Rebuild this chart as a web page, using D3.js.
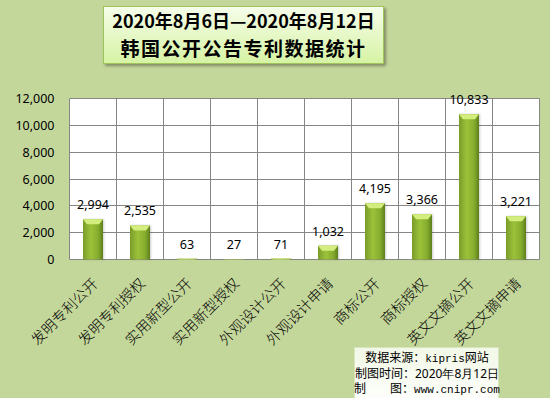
<!DOCTYPE html>
<html>
<head>
<meta charset="utf-8">
<script src="https://cdn.jsdelivr.net/npm/d3@7"></script>
<style>
  body { margin: 0; background: #c4d79b; }
  svg { display: block; }
</style>
</head>
<body>
<svg id="chart" width="550" height="398"></svg>
<script>
const categories = ['发明专利公开', '发明专利授权', '实用新型公开', '实用新型授权', '外观设计公开',
  '外观设计申请', '商标公开', '商标授权', '英文文摘公开', '英文文摘申请'];
const counts = [2994, 2535, 63, 27, 71, 1032, 4195, 3366, 10833, 3221];
const yTicks = [0, 2000, 4000, 6000, 8000, 10000, 12000];
const titleLines = ['2020年8月6日—2020年8月12日', '韩国公开公告专利数据统计'];
const sourceLines = [
  ['数据来源：', 'kipris', '网站'],
  ['制图时间：', '2020年8月12日', ''],
  ['制\u3000\u3000图：', 'www.cnipr.com', '']
];

const svg = d3.select('#chart');
const defs = svg.append('defs');

// bar body: darker at edges, lighter in the middle
let barGrad = defs.append('linearGradient').attr('id', 'barGrad')
  .attr('x1', 0).attr('x2', 1).attr('y1', 0).attr('y2', 0);
barGrad.append('stop').attr('offset', '0%').attr('stop-color', '#7a9c2a');
barGrad.append('stop').attr('offset', '40%').attr('stop-color', '#9cc23a');
barGrad.append('stop').attr('offset', '75%').attr('stop-color', '#86ad2e');
barGrad.append('stop').attr('offset', '100%').attr('stop-color', '#5f7f1e');

let titleGrad = defs.append('linearGradient').attr('id', 'titleGrad')
  .attr('x1', 0).attr('x2', 0).attr('y1', 0).attr('y2', 1);
titleGrad.append('stop').attr('offset', '0%').attr('stop-color', '#f6fdea');
titleGrad.append('stop').attr('offset', '100%').attr('stop-color', '#d6f3a4');

let srcGrad = defs.append('linearGradient').attr('id', 'srcGrad')
  .attr('x1', 0).attr('x2', 0).attr('y1', 0).attr('y2', 1);
srcGrad.append('stop').attr('offset', '0%').attr('stop-color', '#f2f8e6');
srcGrad.append('stop').attr('offset', '100%').attr('stop-color', '#ffffff');

let shadow = defs.append('filter').attr('id', 'shadow')
  .attr('x', '-10%').attr('y', '-10%').attr('width', '130%').attr('height', '140%');
shadow.append('feDropShadow').attr('dx', 2).attr('dy', 2).attr('stdDeviation', 1.5)
  .attr('flood-color', '#000').attr('flood-opacity', 0.35);

let barShadow = defs.append('filter').attr('id', 'barShadow')
  .attr('x', '-30%').attr('y', '-10%').attr('width', '160%').attr('height', '130%');
barShadow.append('feDropShadow').attr('dx', 1).attr('dy', 0).attr('stdDeviation', 1)
  .attr('flood-color', '#000').attr('flood-opacity', 0.2);

const pLeft = 69.5, pRight = 539.5, pTop = 98.5, pBottom = 259.5;

let x = d3.scaleBand().domain(categories).range([pLeft, pRight]).padding(0);
let y = d3.scaleLinear().domain([0, 12000]).range([pBottom, pTop]);

// plot area
svg.append('rect')
  .attr('x', pLeft).attr('y', pTop)
  .attr('width', pRight - pLeft).attr('height', pBottom - pTop)
  .attr('fill', '#fff');

// horizontal grid
svg.selectAll('.hgrid')
  .data(yTicks)
  .enter().append('line')
  .attr('class', 'hgrid')
  .attr('x1', pLeft).attr('x2', pRight)
  .attr('y1', d => Math.round(y(d) - 0.5) + 0.5)
  .attr('y2', d => Math.round(y(d) - 0.5) + 0.5)
  .attr('stroke', '#868686').attr('stroke-width', 1);

// vertical grid at band edges
svg.selectAll('.vgrid')
  .data(categories.concat(['end']))
  .enter().append('line')
  .attr('class', 'vgrid')
  .attr('x1', d => d === 'end' ? pRight : x(d))
  .attr('x2', d => d === 'end' ? pRight : x(d))
  .attr('y1', pTop).attr('y2', pBottom)
  .attr('stroke', '#868686').attr('stroke-width', 1);

// y axis labels
let yAxis = d3.axisLeft(y).tickValues(yTicks).tickSize(0).tickPadding(15)
  .tickFormat(d3.format(','));
let yg = svg.append('g').attr('transform', 'translate(' + pLeft + ',0)').call(yAxis);
yg.select('.domain').remove();
yg.selectAll('text')
  .attr('font-family', 'Noto Sans, sans-serif')
  .attr('font-size', 12.5)
  .attr('fill', '#000');

// bars
const bw = 20;
let bars = svg.selectAll('g.bar')
  .data(categories.map((c, i) => ({ cat: c, v: counts[i] })))
  .enter().append('g')
  .attr('class', 'bar');

bars.append('rect')
  .attr('x', d => x(d.cat) + x.bandwidth() / 2 - bw / 2)
  .attr('y', d => y(d.v))
  .attr('width', bw)
  .attr('height', d => pBottom - y(d.v))
  .attr('fill', 'url(#barGrad)')
  .attr('filter', 'url(#barShadow)');

// top bevel
bars.append('path')
  .attr('d', d => {
    let x0 = x(d.cat) + x.bandwidth() / 2 - bw / 2;
    let t = y(d.v);
    let h = Math.min(5, pBottom - t);
    let inset = Math.min(4, h * 0.8);
    return 'M' + x0 + ',' + t + 'L' + (x0 + bw) + ',' + t
      + 'L' + (x0 + bw - inset) + ',' + (t + h) + 'L' + (x0 + inset) + ',' + (t + h) + 'Z';
  })
  .attr('fill', '#d3ee7c');

bars.append('text')
  .attr('x', d => x(d.cat) + x.bandwidth() / 2)
  .attr('y', d => y(d.v) - 10)
  .attr('text-anchor', 'middle')
  .attr('font-family', 'Noto Sans, sans-serif')
  .attr('font-size', 12.5)
  .attr('fill', '#000')
  .text(d => d3.format(',')(d.v));

// category labels
svg.selectAll('.cat')
  .data(categories)
  .enter().append('text')
  .attr('class', 'cat')
  .attr('transform', d => 'translate(' + (x(d) + x.bandwidth() / 2 + 6) + ',' + (pBottom + 25) + ') rotate(-45)')
  .attr('text-anchor', 'end')
  .attr('font-family', 'Noto Sans CJK SC, sans-serif')
  .attr('font-weight', 300)
  .attr('font-size', 14.5)
  .attr('fill', '#000')
  .text(d => d);

// title box
svg.append('rect')
  .attr('x', 103.5).attr('y', 6.5).attr('width', 280).attr('height', 57)
  .attr('fill', 'url(#titleGrad)')
  .attr('stroke', '#9fc55a').attr('stroke-width', 1)
  .attr('filter', 'url(#shadow)');

svg.append('text')
  .attr('x', 243.5).attr('y', 28)
  .attr('text-anchor', 'middle')
  .attr('font-family', 'Noto Sans CJK SC, sans-serif')
  .attr('font-weight', 'bold')
  .attr('font-size', 18)
  .attr('fill', '#000')
  .text(titleLines[0]);

svg.append('text')
  .attr('x', 243.5).attr('y', 56)
  .attr('text-anchor', 'middle')
  .attr('font-family', 'Noto Sans CJK SC, sans-serif')
  .attr('font-weight', 'bold')
  .attr('font-size', 19)
  .attr('letter-spacing', 1.5)
  .attr('fill', '#000')
  .text(titleLines[1]);

// source box
svg.append('rect')
  .attr('x', 354.5).attr('y', 347.5).attr('width', 144).attr('height', 60)
  .attr('fill', 'url(#srcGrad)')
  .attr('stroke', '#d8e6bf').attr('stroke-width', 1);

let src = svg.selectAll('.src')
  .data(sourceLines)
  .enter().append('text')
  .attr('class', 'src')
  .attr('x', 427)
  .attr('y', (d, i) => 362 + i * 15.5)
  .attr('text-anchor', 'middle')
  .attr('font-family', 'Noto Sans CJK SC, sans-serif')
  .attr('font-size', 12)
  .attr('fill', '#000');

src.append('tspan').text(d => d[0]);
src.append('tspan')
  .attr('font-family', (d, i) => i === 1 ? 'Noto Sans, sans-serif' : 'Liberation Mono, monospace')
  .attr('font-size', (d, i) => i === 1 ? 12 : 11)
  .text(d => d[1]);
src.append('tspan').text(d => d[2]);
</script>
</body>
</html>
